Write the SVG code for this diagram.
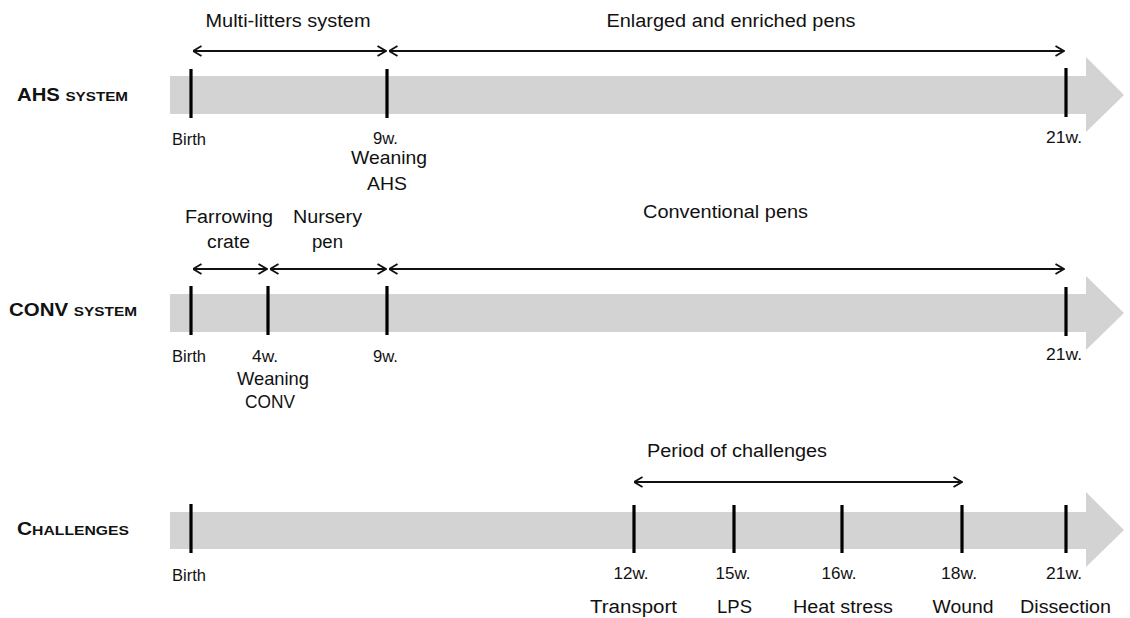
<svg xmlns="http://www.w3.org/2000/svg" width="1130" height="618" viewBox="0 0 1130 618">
<style>
  text { font-family: "Liberation Sans", Arial, sans-serif; fill: #111; }
  .lbl { font-size: 18px; }
  .wk { font-size: 16.5px; }
  .big { font-size: 19px; }
  .row { font-weight: bold; font-size: 18px; }
  .sc { font-size: 13.5px; }
  .bar { fill: #d3d3d3; }
  .tick { stroke: #000; stroke-width: 3.2; }
  .span { stroke: #111; stroke-width: 1.9; fill: none; marker-start: url(#ah); marker-end: url(#ah); }
</style>
<defs>
  <marker id="ah" viewBox="0 0 10 12" refX="9.5" refY="6" markerWidth="10" markerHeight="12" markerUnits="userSpaceOnUse" orient="auto-start-reverse">
    <path d="M1,1 L9.5,6 L1,11" fill="none" stroke="#111" stroke-width="1.9"/>
  </marker>
</defs>

<rect width="1130" height="618" fill="#fff"/>

<!-- AHS system -->
<g id="ahs">
  <path class="bar" d="M170,76 H1086 V57 L1124,95 L1086,132 V114 H170 Z"/>
  <line class="tick" x1="191" y1="69" x2="191" y2="118"/>
  <line class="tick" x1="387" y1="69" x2="387" y2="118"/>
  <line class="tick" x1="1066" y1="68" x2="1066" y2="117"/>
  <text class="row" x="17" y="101" textLength="111" lengthAdjust="spacingAndGlyphs">AHS <tspan class="sc">SYSTEM</tspan></text>
  <text class="lbl" x="288" y="27" text-anchor="middle" textLength="165" lengthAdjust="spacingAndGlyphs">Multi-litters system</text>
  <text class="lbl" x="731" y="27" text-anchor="middle" textLength="249" lengthAdjust="spacingAndGlyphs">Enlarged and enriched pens</text>
  <text class="wk" x="172" y="145" textLength="34" lengthAdjust="spacingAndGlyphs">Birth</text>
  <text class="wk" x="385.5" y="144" text-anchor="middle" textLength="25" lengthAdjust="spacingAndGlyphs">9w.</text>
  <text class="big" x="389" y="164" text-anchor="middle" textLength="76" lengthAdjust="spacingAndGlyphs">Weaning</text>
  <text class="big" x="387" y="190" text-anchor="middle" textLength="40" lengthAdjust="spacingAndGlyphs">AHS</text>
  <text class="wk" x="1064" y="143" text-anchor="middle" textLength="36" lengthAdjust="spacingAndGlyphs">21w.</text>
</g>

<!-- CONV system -->
<g id="conv">
  <path class="bar" d="M170,294 H1086 V276 L1124,313 L1086,350 V332 H170 Z"/>
  <line class="tick" x1="191" y1="286" x2="191" y2="335"/>
  <line class="tick" x1="268" y1="286" x2="268" y2="335"/>
  <line class="tick" x1="387" y1="286" x2="387" y2="335"/>
  <line class="tick" x1="1066" y1="287" x2="1066" y2="336"/>
  <text class="row" x="9" y="316" textLength="128" lengthAdjust="spacingAndGlyphs">CONV <tspan class="sc">SYSTEM</tspan></text>
  <text class="lbl" x="229" y="223" text-anchor="middle" textLength="88" lengthAdjust="spacingAndGlyphs">Farrowing</text>
  <text class="lbl" x="228.5" y="248" text-anchor="middle" textLength="43" lengthAdjust="spacingAndGlyphs">crate</text>
  <text class="lbl" x="327.5" y="223" text-anchor="middle" textLength="69" lengthAdjust="spacingAndGlyphs">Nursery</text>
  <text class="lbl" x="327.5" y="248" text-anchor="middle" textLength="31" lengthAdjust="spacingAndGlyphs">pen</text>
  <text class="lbl" x="725.5" y="218" text-anchor="middle" textLength="165" lengthAdjust="spacingAndGlyphs">Conventional pens</text>
  <text class="wk" x="172" y="362" textLength="34" lengthAdjust="spacingAndGlyphs">Birth</text>
  <text class="wk" x="265" y="362" text-anchor="middle" textLength="26" lengthAdjust="spacingAndGlyphs">4w.</text>
  <text class="big" x="273" y="385" text-anchor="middle" textLength="72" lengthAdjust="spacingAndGlyphs">Weaning</text>
  <text class="big" x="270" y="408" text-anchor="middle" textLength="50" lengthAdjust="spacingAndGlyphs">CONV</text>
  <text class="wk" x="385.5" y="362" text-anchor="middle" textLength="25" lengthAdjust="spacingAndGlyphs">9w.</text>
  <text class="wk" x="1064" y="360" text-anchor="middle" textLength="36" lengthAdjust="spacingAndGlyphs">21w.</text>
</g>

<!-- Challenges -->
<g id="challenges">
  <path class="bar" d="M170,512 H1086 V492 L1124,530 L1086,567 V549 H170 Z"/>
  <line class="tick" x1="191" y1="504" x2="191" y2="553"/>
  <line class="tick" x1="634" y1="505" x2="634" y2="553"/>
  <line class="tick" x1="734" y1="505" x2="734" y2="553"/>
  <line class="tick" x1="842" y1="505" x2="842" y2="553"/>
  <line class="tick" x1="962" y1="505" x2="962" y2="553"/>
  <line class="tick" x1="1066" y1="505" x2="1066" y2="553"/>
  <text class="row" x="17" y="535" textLength="112" lengthAdjust="spacingAndGlyphs">C<tspan class="sc">HALLENGES</tspan></text>
  <text class="lbl" x="737" y="457" text-anchor="middle" textLength="180" lengthAdjust="spacingAndGlyphs">Period of challenges</text>
  <text class="wk" x="172" y="581" textLength="34" lengthAdjust="spacingAndGlyphs">Birth</text>
  <text class="wk" x="631" y="579" text-anchor="middle" textLength="35" lengthAdjust="spacingAndGlyphs">12w.</text>
  <text class="wk" x="733" y="579" text-anchor="middle" textLength="35" lengthAdjust="spacingAndGlyphs">15w.</text>
  <text class="wk" x="839" y="579" text-anchor="middle" textLength="35" lengthAdjust="spacingAndGlyphs">16w.</text>
  <text class="wk" x="959" y="579" text-anchor="middle" textLength="36" lengthAdjust="spacingAndGlyphs">18w.</text>
  <text class="wk" x="1064" y="579" text-anchor="middle" textLength="36" lengthAdjust="spacingAndGlyphs">21w.</text>
  <text class="lbl" x="633.5" y="613" text-anchor="middle" textLength="87" lengthAdjust="spacingAndGlyphs">Transport</text>
  <text class="lbl" x="734.5" y="613" text-anchor="middle" textLength="35" lengthAdjust="spacingAndGlyphs">LPS</text>
  <text class="lbl" x="843" y="613" text-anchor="middle" textLength="100" lengthAdjust="spacingAndGlyphs">Heat stress</text>
  <text class="lbl" x="963" y="613" text-anchor="middle" textLength="61" lengthAdjust="spacingAndGlyphs">Wound</text>
  <text class="lbl" x="1065.5" y="613" text-anchor="middle" textLength="91" lengthAdjust="spacingAndGlyphs">Dissection</text>
</g>

<!-- Connectors: span arrows -->
<g id="connectors">
  <line class="span" x1="193" y1="51" x2="386" y2="51"/>
  <line class="span" x1="389" y1="51" x2="1064" y2="51"/>
  <line class="span" x1="193" y1="269" x2="267" y2="269"/>
  <line class="span" x1="270" y1="269" x2="386" y2="269"/>
  <line class="span" x1="389" y1="269" x2="1064" y2="269"/>
  <line class="span" x1="634" y1="482" x2="962" y2="482"/>
</g>
</svg>
